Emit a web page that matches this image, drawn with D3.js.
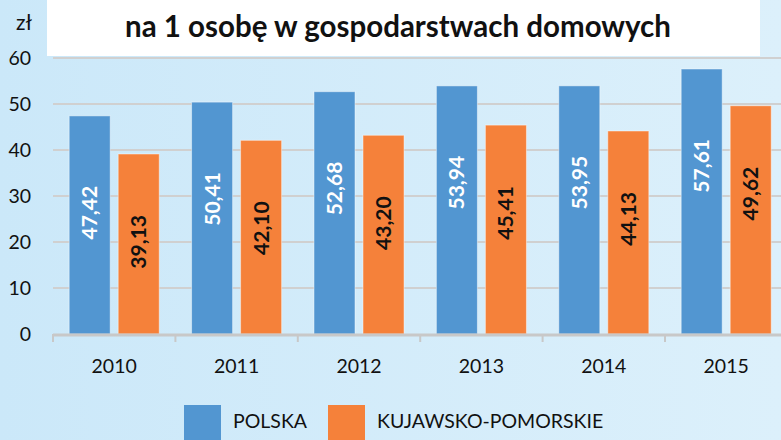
<!DOCTYPE html>
<html lang="pl">
<head>
    <meta charset="UTF-8">
    <title>Wydatki na 1 osobę</title>
    <style>
        body { margin: 0; }
        svg { display: block; font-family: Lato, "Noto Sans", sans-serif; }
    </style>
</head>
<body>
    <script src="https://cdnjs.cloudflare.com/ajax/libs/d3/7.8.5/d3.min.js"></script>
    <script>

        var years = ["2010", "2011", "2012", "2013", "2014", "2015"];
        var seriesNames = ["POLSKA", "KUJAWSKO-POMORSKIE"];
        var polska = [47.42, 50.41, 52.68, 53.94, 53.95, 57.61];
        var kujawsko = [39.13, 42.10, 43.20, 45.41, 44.13, 49.62];
        var yTicks = [0, 10, 20, 30, 40, 50, 60];
        var titleLine = "na 1 osobę w gospodarstwach domowych";
        var unitLabel = "zł";

        var colors = ["#5296d1", "#f5813a"];
        var labelColors = ["#ffffff", "#111111"];
        var labelOffset = [70, 61];

        var width = 781,
            height = 440;

        var svg = d3.select("body").append("svg")
            .attr("width", width)
            .attr("height", height);

        var defs = svg.append("defs");
        var grad = defs.append("linearGradient")
            .attr("id", "bg")
            .attr("x1", "0%").attr("x2", "100%")
            .attr("y1", "0%").attr("y2", "0%");
        grad.append("stop").attr("offset", "0%").attr("stop-color", "#cbe8f9");
        grad.append("stop").attr("offset", "100%").attr("stop-color", "#dcf0fb");

        svg.append("rect")
            .attr("width", width)
            .attr("height", height)
            .attr("fill", "url(#bg)");

        var x0 = d3.scaleBand()
            .domain(years)
            .range([53, 53 + 6 * 122.4])
            .padding(0);

        var x1 = d3.scaleBand()
            .domain(seriesNames)
            .range([0, x0.bandwidth()])
            .paddingInner(0.163)
            .paddingOuter(0.33);

        var y = d3.scaleLinear()
            .domain([0, 60])
            .range([334, 58]);

        // grid
        svg.append("g")
            .selectAll("line")
            .data(yTicks.slice(1))
            .enter().append("line")
            .attr("x1", 53)
            .attr("x2", width)
            .attr("y1", function(d) { return y(d); })
            .attr("y2", function(d) { return y(d); })
            .attr("stroke", "#d0d0d0")
            .attr("stroke-width", 2);

        // title box
        svg.append("rect")
            .attr("x", 47)
            .attr("y", 0)
            .attr("width", 713)
            .attr("height", 56)
            .attr("fill", "#ffffff");

        svg.append("text")
            .attr("x", 398)
            .attr("y", 37)
            .attr("text-anchor", "middle")
            .attr("font-size", 29.5)
            .attr("font-weight", "bold")
            .attr("fill", "#111")
            .text(titleLine);

        // y axis labels
        svg.append("g")
            .selectAll("text")
            .data(yTicks)
            .enter().append("text")
            .attr("x", 31)
            .attr("y", function(d) { return y(d); })
            .attr("dy", "0.36em")
            .attr("text-anchor", "end")
            .attr("font-size", 19.5)
            .attr("fill", "#111")
            .text(function(d) { return d; });

        svg.append("text")
            .attr("x", 24)
            .attr("y", 30)
            .attr("text-anchor", "middle")
            .attr("font-size", 21)
            .attr("fill", "#111")
            .text(unitLabel);

        // bars
        var rows = years.map(function(yr, i) {
            return { year: yr, values: [polska[i], kujawsko[i]] };
        });

        var groups = svg.append("g")
            .selectAll("g")
            .data(rows)
            .enter().append("g")
            .attr("transform", function(d) { return "translate(" + x0(d.year) + ",0)"; });

        groups.selectAll("rect")
            .data(function(d) { return d.values.map(function(v, j) { return { s: j, v: v }; }); })
            .enter().append("rect")
            .attr("x", function(d) { return x1(seriesNames[d.s]); })
            .attr("y", function(d) { return y(d.v); })
            .attr("width", x1.bandwidth())
            .attr("height", function(d) { return y(0) - y(d.v); })
            .attr("fill", function(d) { return colors[d.s]; })
            .attr("stroke", "rgba(255,255,255,0.45)")
            .attr("stroke-width", 1);

        groups.selectAll("text")
            .data(function(d) { return d.values.map(function(v, j) { return { s: j, v: v }; }); })
            .enter().append("text")
            .attr("transform", function(d) {
                var cx = x1(seriesNames[d.s]) + x1.bandwidth() / 2;
                var cy = y(d.v) + labelOffset[d.s];
                return "translate(" + cx + "," + cy + ") rotate(-90)";
            })
            .attr("text-anchor", "end")
            .attr("dy", "0.36em")
            .attr("font-size", 21)
            .attr("font-weight", "bold")
            .attr("fill", function(d) { return labelColors[d.s]; })
            .text(function(d) { return d.v.toFixed(2).replace(".", ","); });

        // x axis
        var xAxis = svg.append("g");
        xAxis.append("line")
            .attr("x1", 53)
            .attr("x2", width)
            .attr("y1", 335)
            .attr("y2", 335)
            .attr("stroke", "#c8c8c8")
            .attr("stroke-width", 3);

        xAxis.selectAll("line.tick")
            .data(years)
            .enter().append("line")
            .attr("class", "tick")
            .attr("x1", function(d) { return x0(d); })
            .attr("x2", function(d) { return x0(d); })
            .attr("y1", 334)
            .attr("y2", 342)
            .attr("stroke", "#c8c8c8")
            .attr("stroke-width", 2);

        xAxis.selectAll("text")
            .data(years)
            .enter().append("text")
            .attr("x", function(d) { return x0(d) + x0.bandwidth() / 2; })
            .attr("y", 373)
            .attr("text-anchor", "middle")
            .attr("font-size", 19.5)
            .attr("fill", "#111")
            .text(function(d) { return d; });

        // legend
        var legendX = [184, 328];
        var legend = svg.append("g")
            .selectAll("g")
            .data(seriesNames)
            .enter().append("g")
            .attr("transform", function(d, i) { return "translate(" + legendX[i] + ",405)"; });

        legend.append("rect")
            .attr("width", 37)
            .attr("height", 36)
            .attr("fill", function(d, i) { return colors[i]; });

        legend.append("text")
            .attr("x", 49)
            .attr("y", 23)
            .attr("font-size", 19.5)
            .attr("fill", "#111")
            .text(function(d) { return d; });

    </script>
</body>
</html>
